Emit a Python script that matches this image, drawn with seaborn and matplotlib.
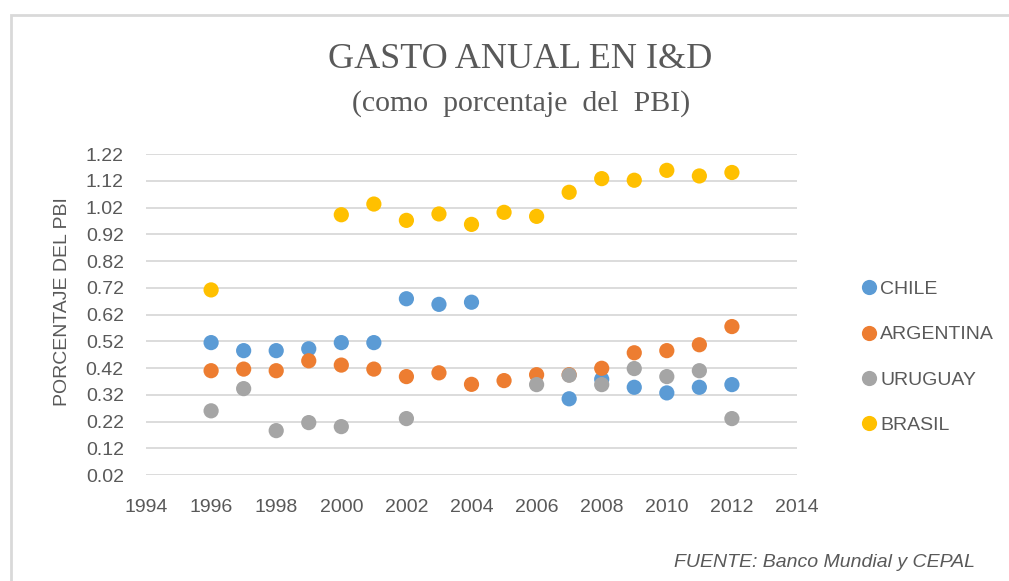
import pandas as pd
import seaborn as sns
import matplotlib.pyplot as plt
import numpy as np
from matplotlib.patches import Rectangle

years = list(range(1996, 2013))
nan = np.nan

# valores (% del PBI)
chile = [0.515, 0.485, 0.485, 0.492, 0.515, 0.515, 0.679, 0.658, 0.666,
         nan, nan, 0.305, 0.378, 0.348, 0.327, 0.348, 0.358]
argentina = [0.410, 0.416, 0.410, 0.447, 0.431, 0.416, 0.388, 0.402, 0.359,
             0.373, 0.395, 0.395, 0.419, 0.477, 0.485, 0.507, 0.575]
uruguay = [0.260, 0.343, 0.186, 0.216, 0.201, nan, 0.231, nan, nan,
           nan, 0.358, 0.393, 0.358, 0.418, 0.388, 0.410, 0.231]
brasil = [0.712, nan, nan, nan, 0.993, 1.033, 0.972, 0.996, 0.957,
          1.002, 0.987, 1.077, 1.128, 1.122, 1.159, 1.138, 1.151]

countries = ['CHILE', 'ARGENTINA', 'URUGUAY', 'BRASIL']
colors = ['#5B9BD5', '#ED7D31', '#A5A5A5', '#FFC000']

yticks = [0.02, 0.12, 0.22, 0.32, 0.42, 0.52, 0.62, 0.72, 0.82, 0.92, 1.02, 1.12, 1.22]
xticks = list(range(1994, 2015, 2))

df = pd.DataFrame({'Year': years * 4,
                   'Value': chile + argentina + uruguay + brasil,
                   'Pais': [c for c in countries for _ in years]})
df = df.dropna()

sns.set_style('white')
plt.rcParams['font.family'] = ['Liberation Sans', 'DejaVu Sans']

fig = plt.figure(figsize=(10.09, 5.81), dpi=100)
ax = fig.add_axes([0.1447, 0.1824, 0.6452, 0.5525])

sns.scatterplot(x='Year', y='Value', data=df, hue='Pais', hue_order=countries,
                palette=colors, s=120, linewidth=0, ax=ax, zorder=3)

ax.set_xlim(1994, 2014)
ax.set_ylim(0.02, 1.22)
ax.set_xticks(xticks)
ax.set_yticks(yticks)
ax.set_xticklabels([str(x) for x in xticks])
ax.set_yticklabels([f'{y:.2f}' for y in yticks])
ax.tick_params(axis='both', labelsize=14, colors='#595959', length=0)
ax.tick_params(axis='x', pad=17)
ax.tick_params(axis='y', pad=16)
ax.yaxis.grid(True, color='#d9d9d9', linewidth=1.3)
ax.xaxis.grid(False)
for s in ax.spines.values():
    s.set_visible(False)
ax.set_xlabel('')
ax.set_ylabel('PORCENTAJE DEL PBI', fontsize=14, color='#595959', labelpad=4)
ax.yaxis.set_label_coords(-0.115, 0.54)

leg = ax.legend(loc='center left', bbox_to_anchor=(1.08, 0.367), frameon=False,
                fontsize=14, labelspacing=1.42, handletextpad=-0.4,
                markerscale=1.0, borderaxespad=0, borderpad=0)
for t in leg.get_texts():
    t.set_color('#595959')

fig.text(0.516, 0.897, 'GASTO ANUAL EN I&D', ha='center', va='center',
         fontsize=26, color='#595959', family='Liberation Serif')
fig.text(0.516, 0.822, '(como  porcentaje  del  PBI)', ha='center', va='center',
         fontsize=21.5, color='#595959', family='Liberation Serif')
fig.text(0.966, 0.031, 'FUENTE: Banco Mundial y CEPAL', ha='right', va='center',
         fontsize=14, color='#595959', style='italic')

fig.patches.append(Rectangle((11 / 1009, -0.05), 1.1, 1 - 15 / 581 + 0.05,
                             transform=fig.transFigure, fill=False,
                             edgecolor='#d9d9d9', linewidth=2))

fig.savefig('out.png', dpi=100)
